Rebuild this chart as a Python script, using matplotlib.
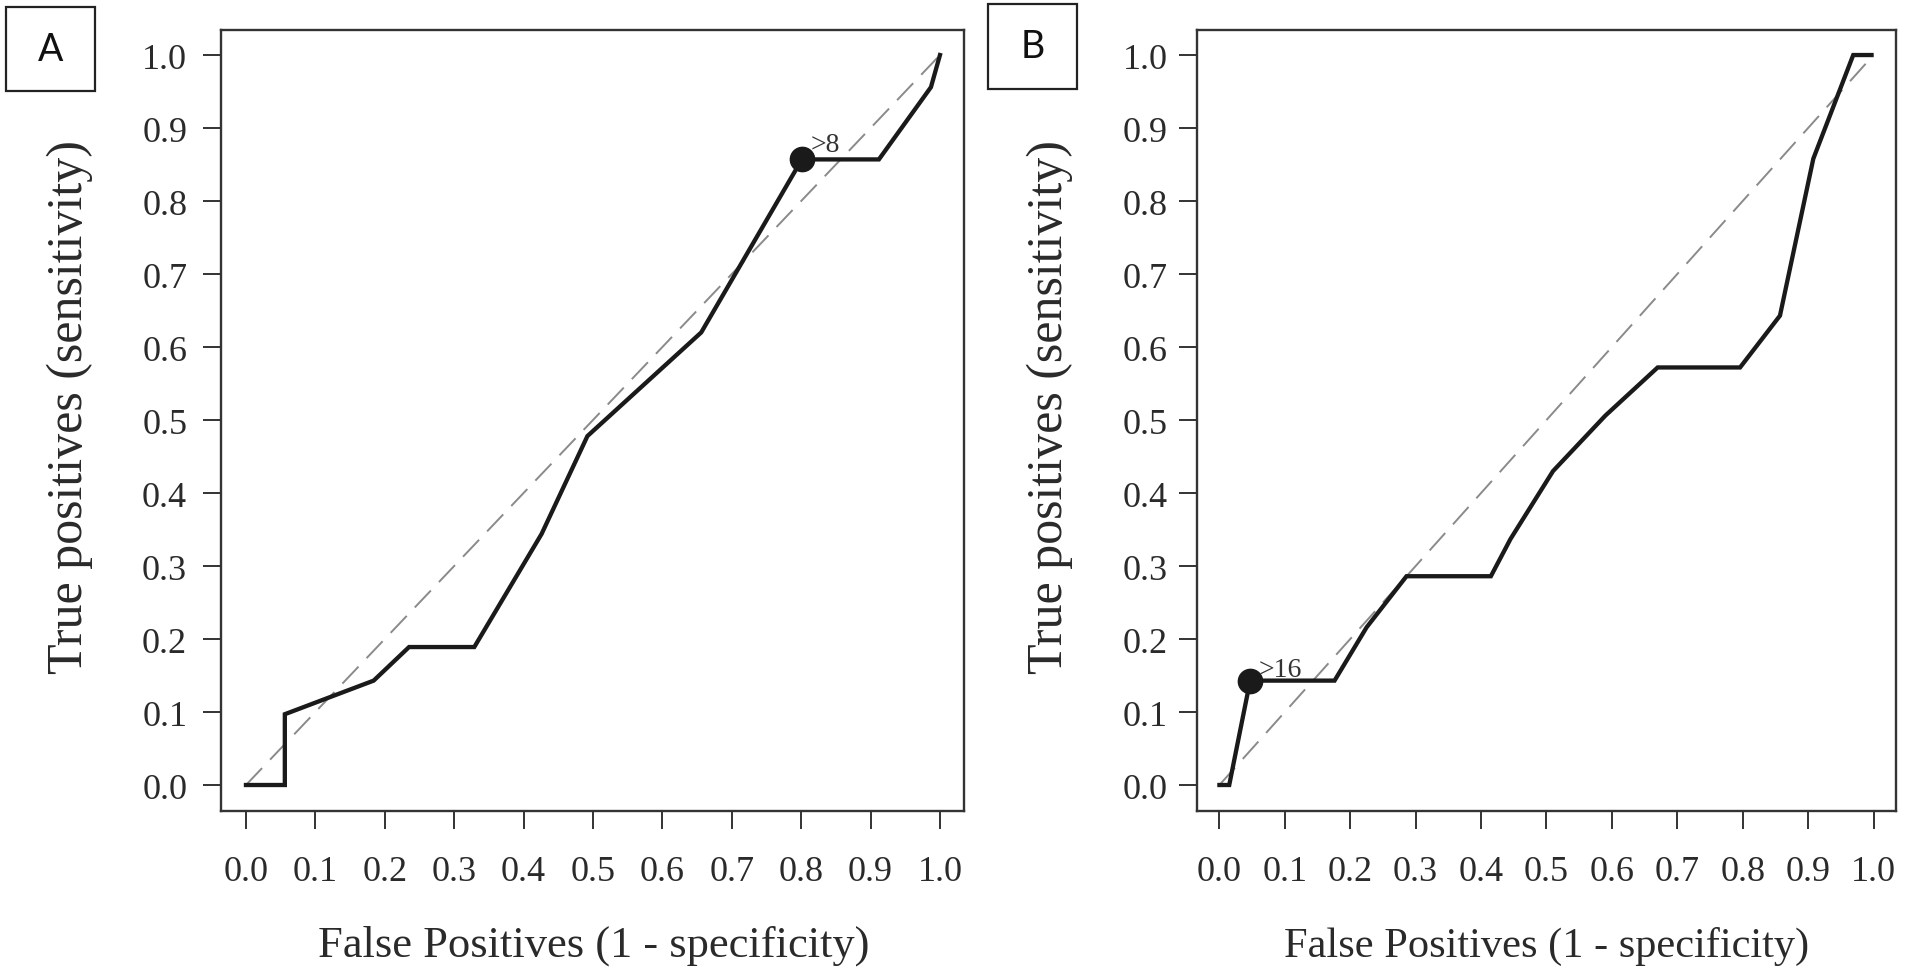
import matplotlib.pyplot as plt
from matplotlib.patches import Rectangle

# ROC curve, panel A
fpr_a = [0.0, 0.056, 0.056, 0.184, 0.235, 0.329, 0.426, 0.492, 0.656, 0.801, 0.912, 0.987, 1.0]
tpr_a = [0.0, 0.0, 0.097, 0.143, 0.189, 0.189, 0.344, 0.478, 0.620, 0.857, 0.857, 0.956, 1.0]
cut_a = [0.801, 0.857]
cut_label_a = '>8'

# ROC curve, panel B
fpr_b = [0.0, 0.015, 0.047, 0.176, 0.225, 0.286, 0.415, 0.445, 0.510, 0.590, 0.670, 0.796, 0.857, 0.908, 0.969, 0.997]
tpr_b = [0.0, 0.0, 0.143, 0.143, 0.216, 0.286, 0.286, 0.337, 0.430, 0.506, 0.572, 0.572, 0.643, 0.858, 1.0, 1.0]
cut_b = [0.047, 0.143]
cut_label_b = '>16'

ticks = [0.0, 0.1, 0.2, 0.3, 0.4, 0.5, 0.6, 0.7, 0.8, 0.9, 1.0]
tick_labels = ['0.0', '0.1', '0.2', '0.3', '0.4', '0.5', '0.6', '0.7', '0.8', '0.9', '1.0']

W, H = 1910, 979
fig = plt.figure(figsize=(W / 100, H / 100), dpi=100)
serif = ['Liberation Serif', 'DejaVu Serif']
ink = '#1a1a1a'
frame = '#333333'


def px_axes(left, top, right, bottom):
    return fig.add_axes([left / W, 1 - bottom / H, (right - left) / W, (bottom - top) / H])


def roc_panel(ax, fpr, tpr, cut, cut_label, xlim, ypad, lab_dx, lab_dy, lab_size):
    ax.plot([0, 1], [0, 1], color='#8a8a8a', lw=1.4, dashes=(12, 6))
    ax.plot(fpr, tpr, color=ink, lw=3.1, solid_joinstyle='miter')
    ax.plot(cut[0], cut[1], 'o', color=ink, ms=17.5)
    ax.text(cut[0] + lab_dx, cut[1] + lab_dy, cut_label, fontsize=lab_size,
            family=serif, color='#333333', ha='left', va='baseline')
    ax.set_xlim(*xlim)
    ax.set_ylim(-0.0352, 1.0347)
    ax.set_xticks(ticks)
    ax.set_xticklabels(tick_labels)
    ax.set_yticks(ticks)
    ax.set_yticklabels(tick_labels)
    for sp in ax.spines.values():
        sp.set_linewidth(1.7)
        sp.set_color(frame)
    ax.tick_params(axis='both', length=13, width=1.4, color=frame, labelsize=26,
                   labelcolor='#2a2a2a')
    ax.tick_params(axis='x', pad=19)
    ax.tick_params(axis='y', pad=ypad)
    for lab in ax.get_xticklabels() + ax.get_yticklabels():
        lab.set_family(serif)


ax_a = px_axes(220.5, 30.7, 963.5, 811.7)
roc_panel(ax_a, fpr_a, tpr_a, cut_a, cut_label_a, (-0.0367, 1.0339), 11, 0.012, 0.011, 20)

ax_b = px_axes(1196.8, 30.7, 1896, 811.7)
roc_panel(ax_b, fpr_b, tpr_b, cut_b, cut_label_b, (-0.0346, 1.0344), 8, 0.013, 0.007, 20)

# axis titles
fig.text(70 / W, 1 - 407 / H, 'True positives (sensitivity)', rotation=90, ha='center',
         va='center', fontsize=36, family=serif, color='#2a2a2a')
fig.text(1050 / W, 1 - 407 / H, 'True positives (sensitivity)', rotation=90, ha='center',
         va='center', fontsize=36, family=serif, color='#2a2a2a')
fig.text(594 / W, 1 - 946 / H, 'False Positives (1 - specificity)', ha='center',
         va='center', fontsize=32, family=serif, color='#2a2a2a')
fig.text(1547 / W, 1 - 946 / H, 'False Positives (1 - specificity)', ha='center',
         va='center', fontsize=30.5, family=serif, color='#2a2a2a')

# panel letters in boxes
for (x0, y0, x1, y1), letter in [((6, 8, 95, 92), 'A'), ((988, 5, 1077, 90), 'B')]:
    fig.patches.append(Rectangle((x0 / W, 1 - y1 / H), (x1 - x0) / W, (y1 - y0) / H,
                                 transform=fig.transFigure, fill=False,
                                 edgecolor='#222222', lw=1.6))
    fig.text((x0 + x1) / 2 / W, 1 - (y0 + y1) / 2 / H, letter, ha='center', va='center',
             fontsize=27, family=['Lato', 'DejaVu Sans'], color='#111111')

fig.savefig('out.png', dpi=100)
